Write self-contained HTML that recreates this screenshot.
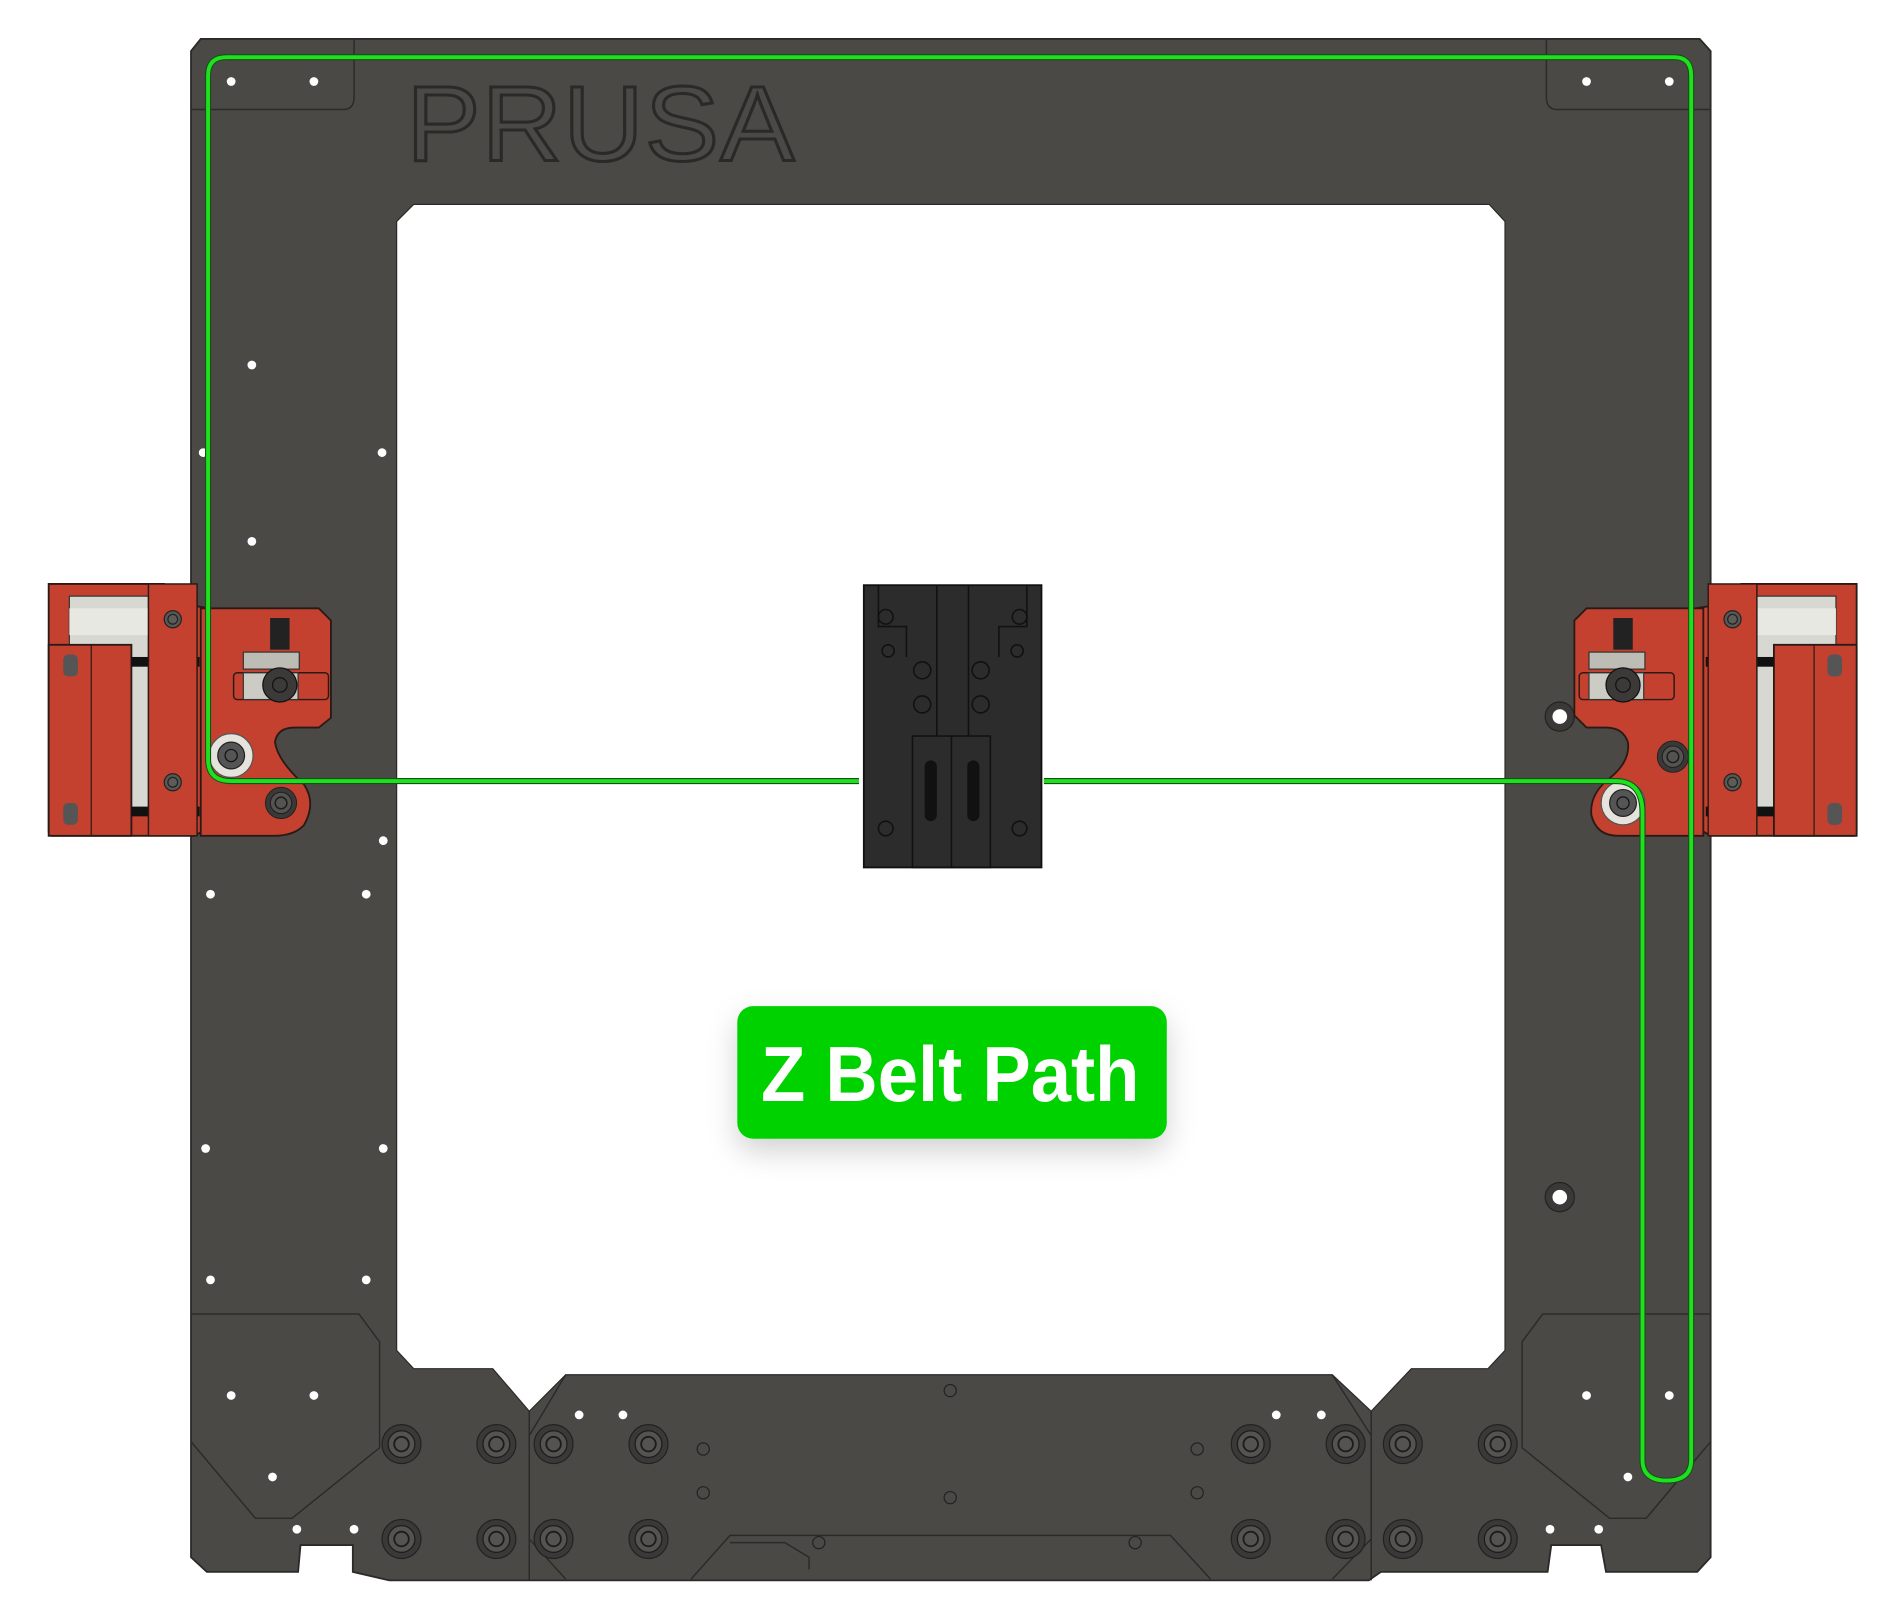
<!DOCTYPE html>
<html><head><meta charset="utf-8"><style>
html,body{margin:0;padding:0;background:#fff;}
svg{display:block;}
</style></head><body>
<svg width="1898" height="1612" viewBox="0 0 1560 1325" preserveAspectRatio="none" xmlns="http://www.w3.org/2000/svg">
<defs>
<filter id="sh" x="-20%" y="-30%" width="140%" height="180%"><feDropShadow dx="0" dy="10" stdDeviation="12" flood-color="#000" flood-opacity="0.18"/></filter>
<g id="screw"><circle r="16" fill="#3a3937" stroke="#222" stroke-width="1"/><circle r="11" fill="#55534f" stroke="#1c1c1c" stroke-width="1"/><circle r="6" fill="none" stroke="#1c1c1c" stroke-width="1.5"/></g>
<g id="hole"><circle r="3.6" fill="#fff"/></g>
<g id="sm"><circle r="7" fill="#5a5854" stroke="#222" stroke-width="1"/><circle r="4" fill="#5e5c58" stroke="#222" stroke-width="1"/></g>
<g id="housing">
 <path d="M40,480 L135,480 L160,498 L172,500 L172,680 L160,687 L42,687 L40,684 Z" fill="#c4412f" stroke="#2a1a16" stroke-width="1.5"/>
 <rect x="57" y="490" width="65" height="178" fill="#d8d8d2" stroke="#333" stroke-width="1"/>
 <rect x="57" y="500" width="65" height="22" fill="#e8e8e2"/>
 <rect x="40" y="530" width="68" height="157" fill="#c4412f" stroke="#2a1a16" stroke-width="1.5"/>
 <line x1="75" y1="530" x2="75" y2="687" stroke="#2a1a16" stroke-width="1"/>
 <rect x="108" y="540" width="56" height="8" fill="#111"/>
 <rect x="108" y="663" width="56" height="8" fill="#111"/>
 <rect x="122" y="480" width="40" height="207" fill="#c4412f" stroke="#2a1a16" stroke-width="1.2"/>
 <use href="#sm" x="142" y="509"/><use href="#sm" x="142" y="643"/>
 <rect x="52" y="538" width="12" height="18" rx="4" fill="#555"/><rect x="52" y="660" width="12" height="18" rx="4" fill="#555"/>
</g>
</defs>

<path d="M165,32 L1397,32 L1406,42 L1406,1280 L1395,1292 L1320,1292 L1316,1270 L1275,1270 L1272,1292 L1135,1292 L1125,1299 L320,1299 L290,1292 L290,1270 L247,1270 L245,1292 L170,1292 L157,1280 L157,42 Z" fill="#4a4946" stroke="#2b2a28" stroke-width="1.5"/>
<path d="M340,168 L1224,168 L1237,182 L1237,1110 L1223,1125 L1160,1125 L1127,1160 L1095,1130 L465,1130 L435,1160 L405,1125 L340,1125 L326,1110 L326,182 Z" fill="#fff" stroke="#2b2a28" stroke-width="1"/>
<g fill="none" stroke="#2b2a28" stroke-width="1.2">
<path d="M157,90 L282,90 Q291,90 291,80 L291,32"/>
<path d="M1406,90 L1280,90 Q1271,90 1271,80 L1271,32"/>
<path d="M157,1080 L295,1080 L312,1103 L312,1190 L240,1248 L210,1248 L157,1185"/>
<path d="M1406,1080 L1268,1080 L1251,1103 L1251,1190 L1323,1248 L1353,1248 L1406,1185"/>
<path d="M435,1160 L435,1299"/>
<path d="M1127,1160 L1127,1299"/>
<path d="M465,1130 L435,1180 L435,1265 L465,1298"/>
<path d="M1095,1130 L1127,1180 L1127,1265 L1095,1298"/>
<path d="M568,1298 L600,1262 L962,1262 L995,1298"/>
<path d="M600,1268 L645,1268 L665,1280 L665,1290"/>
</g>
<text x="334" y="132" font-family="Liberation Sans, sans-serif" font-size="88" letter-spacing="1" textLength="320" lengthAdjust="spacingAndGlyphs" fill="none" stroke="#2a2927" stroke-width="2.5">PRUSA</text>

<g>
<use href="#hole" x="190" y="67"/><use href="#hole" x="258" y="67"/><use href="#hole" x="1304" y="67"/><use href="#hole" x="1372" y="67"/>
<use href="#hole" x="207" y="300"/><use href="#hole" x="314" y="372"/><use href="#hole" x="207" y="445"/><use href="#hole" x="167" y="372"/>
<use href="#hole" x="315" y="691"/><use href="#hole" x="173" y="735"/><use href="#hole" x="301" y="735"/>
<use href="#hole" x="169" y="944"/><use href="#hole" x="315" y="944"/><use href="#hole" x="173" y="1052"/><use href="#hole" x="301" y="1052"/>
<use href="#hole" x="190" y="1147"/><use href="#hole" x="258" y="1147"/><use href="#hole" x="224" y="1214"/>
<use href="#hole" x="244" y="1257"/><use href="#hole" x="291" y="1257"/>
<use href="#hole" x="476" y="1163"/><use href="#hole" x="512" y="1163"/><use href="#hole" x="1049" y="1163"/><use href="#hole" x="1086" y="1163"/>
<use href="#hole" x="1304" y="1147"/><use href="#hole" x="1372" y="1147"/><use href="#hole" x="1338" y="1214"/>
<use href="#hole" x="1274" y="1257"/><use href="#hole" x="1314" y="1257"/>
</g>
<g fill="none" stroke="#222" stroke-width="1">
<circle cx="781" cy="1143" r="5"/><circle cx="781" cy="1231" r="5"/><circle cx="578" cy="1191" r="5"/><circle cx="578" cy="1227" r="5"/>
<circle cx="984" cy="1191" r="5"/><circle cx="984" cy="1227" r="5"/><circle cx="673" cy="1268" r="5"/><circle cx="933" cy="1268" r="5"/>
</g>
<circle cx="1282" cy="589" r="12" fill="#3a3937" stroke="#222"/><circle cx="1282" cy="589" r="6" fill="#fff"/>
<circle cx="1282" cy="984" r="12" fill="#3a3937" stroke="#222"/><circle cx="1282" cy="984" r="6" fill="#fff"/>

<g>
<use href="#screw" x="330" y="1187"/><use href="#screw" x="408" y="1187"/><use href="#screw" x="455" y="1187"/><use href="#screw" x="533" y="1187"/>
<use href="#screw" x="1028" y="1187"/><use href="#screw" x="1106" y="1187"/><use href="#screw" x="1153" y="1187"/><use href="#screw" x="1231" y="1187"/>
<use href="#screw" x="330" y="1265"/><use href="#screw" x="408" y="1265"/><use href="#screw" x="455" y="1265"/><use href="#screw" x="533" y="1265"/>
<use href="#screw" x="1028" y="1265"/><use href="#screw" x="1106" y="1265"/><use href="#screw" x="1153" y="1265"/><use href="#screw" x="1231" y="1265"/>
</g>

<use href="#housing"/>
<use href="#housing" transform="translate(1566,0) scale(-1,1)"/>

<path d="M178,500 L262,500 L272,510 L272,590 L262,598 L242,598 Q228,598 226,610 Q228,625 250,645 Q260,660 250,678 Q242,687 225,687 L165,687 L165,500 Z" fill="#c4412f" stroke="#2a1a16" stroke-width="1.5"/>
<rect x="200" y="536" width="46" height="14" fill="#bdbdb5" stroke="#333"/>
<rect x="192" y="553" width="78" height="22" rx="3" fill="none" stroke="#2a1a16" stroke-width="1.2"/>
<rect x="200" y="553" width="45" height="22" fill="#ccccc4" stroke="#333"/>
<rect x="222" y="508" width="16" height="26" fill="#222"/>
<circle cx="230" cy="563" r="14" fill="#3b3a38" stroke="#111"/><circle cx="230" cy="563" r="6" fill="none" stroke="#111"/>
<circle cx="190" cy="621" r="18" fill="#e5e3dc" stroke="#555"/><circle cx="190" cy="621" r="11" fill="#555" stroke="#222"/><circle cx="190" cy="621" r="5" fill="none" stroke="#111"/>
<use href="#screw" transform="translate(231,660) scale(0.8)"/>

<path d="M1304,500 L1388,500 L1400,500 L1400,687 L1330,687 Q1312,687 1308,670 Q1306,652 1325,638 Q1340,625 1338,610 Q1334,598 1320,598 L1304,598 L1294,588 L1294,510 Z" fill="#c4412f" stroke="#2a1a16" stroke-width="1.5"/>
<rect x="1306" y="536" width="46" height="14" fill="#bdbdb5" stroke="#333"/>
<rect x="1298" y="553" width="78" height="22" rx="3" fill="none" stroke="#2a1a16" stroke-width="1.2"/>
<rect x="1306" y="553" width="45" height="22" fill="#ccccc4" stroke="#333"/>
<rect x="1326" y="508" width="16" height="26" fill="#222"/>
<circle cx="1334" cy="563" r="14" fill="#3b3a38" stroke="#111"/><circle cx="1334" cy="563" r="6" fill="none" stroke="#111"/>
<circle cx="1334" cy="660" r="18" fill="#e5e3dc" stroke="#555"/><circle cx="1334" cy="660" r="11" fill="#555" stroke="#222"/><circle cx="1334" cy="660" r="5" fill="none" stroke="#111"/>
<use href="#screw" transform="translate(1375,622) scale(0.8)"/>

<rect x="710" y="481" width="146" height="232" fill="#2c2c2c" stroke="#111" stroke-width="1.5"/>
<g fill="none" stroke="#111" stroke-width="1.3">
<path d="M722,481 L722,515 L745,515 L745,540 M844,481 L844,515 L821,515 L821,540"/>
<path d="M770,481 L770,605 M796,481 L796,605"/>
<circle cx="728" cy="507" r="6"/><circle cx="838" cy="507" r="6"/><circle cx="730" cy="535" r="5"/><circle cx="836" cy="535" r="5"/>
<circle cx="758" cy="551" r="7"/><circle cx="806" cy="551" r="7"/><circle cx="758" cy="579" r="7"/><circle cx="806" cy="579" r="7"/>
<rect x="750" y="605" width="64" height="108"/>
<line x1="782" y1="605" x2="782" y2="713"/>
<circle cx="728" cy="681" r="6"/><circle cx="838" cy="681" r="6"/>
</g>
<rect x="760" y="625" width="10" height="50" rx="5" fill="#111"/><rect x="795" y="625" width="10" height="50" rx="5" fill="#111"/>

<path d="M706,642 L190,642 Q171,642 171,624 L171,62 Q171,47 186,47 L1376,47 Q1390,47 1390,62 L1390,1200 Q1390,1217 1370,1217 Q1350,1217 1350,1200 L1350,668 Q1350,642 1328,642 L858,642" fill="none" stroke="#165016" stroke-width="5"/>
<path d="M706,642 L190,642 Q171,642 171,624 L171,62 Q171,47 186,47 L1376,47 Q1390,47 1390,62 L1390,1200 Q1390,1217 1370,1217 Q1350,1217 1350,1200 L1350,668 Q1350,642 1328,642 L858,642" fill="none" stroke="#1fe01f" stroke-width="3.2"/>

<rect x="606" y="827" width="353" height="109" rx="13" fill="#00d200" filter="url(#sh)"/>
<text x="781" y="905" text-anchor="middle" font-family="Liberation Sans, sans-serif" font-weight="bold" font-size="64" textLength="311" lengthAdjust="spacingAndGlyphs" fill="#fff">Z Belt Path</text>
</svg>
</body></html>
